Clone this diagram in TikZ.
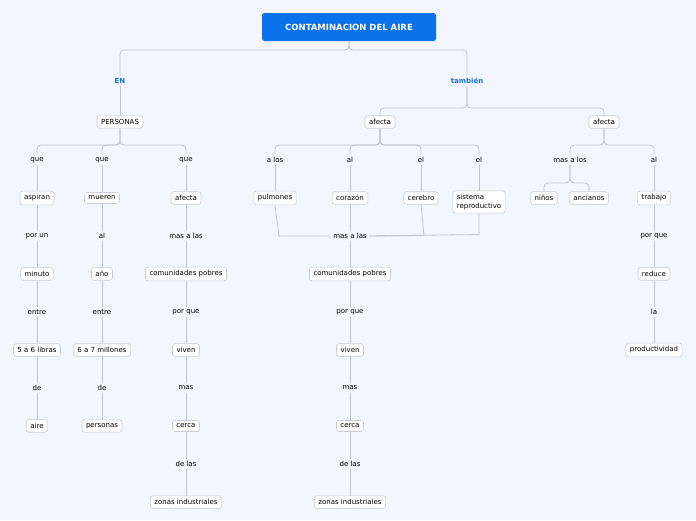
\documentclass[tikz,border=0pt]{standalone}
\usepackage{fontspec}
\setmainfont{DejaVu Sans}
\definecolor{bg}{HTML}{F3F6FE}
\definecolor{ln}{HTML}{BFC3CC}
\definecolor{bd}{HTML}{C9CDD5}
\definecolor{rootb}{HTML}{0B73E9}
\definecolor{lb}{HTML}{1670DA}
\begin{document}
\begin{tikzpicture}[x=1pt,y=-1pt,
  conn/.style={draw=ln, line width=0.8pt, rounded corners=4pt},
  lbl/.style={inner sep=2.5pt, font=\fontsize{7}{8.4}\selectfont},
  bx/.style={draw=bd, line width=0.6pt, fill=white, rounded corners=2.5pt, inner xsep=4pt, inner ysep=3.5pt, font=\fontsize{7}{8.4}\selectfont},
  blue lbl/.style={inner sep=2.5pt, font=\fontsize{7}{8.4}\selectfont\bfseries, text=lb}]
\fill[bg] (0,0) rectangle (696,520);
\useasboundingbox (0,0) rectangle (696,520);
\node[fill=rootb, text=white, rounded corners=2.5pt, minimum width=174pt, minimum height=28pt, font=\fontsize{8.5}{10}\selectfont\bfseries] (root) at (349,27) {CONTAMINACION DEL AIRE};
\node[blue lbl] (en) at (120,81) {EN};
\node[blue lbl] (tb) at (467,81) {también};
\draw[conn] (root.south) -- (root.south |- 0,50) -| (en.north);
\draw[conn] (root.south) -- (root.south |- 0,50) -| (tb.north);
\node[bx] (per) at (120,122) {PERSONAS};
\draw[conn] (en) -- (per);
\foreach \col/\x/\lst in {a/37/{que,aspiran,por un,minuto,entre,5 a 6 libras,de,aire},
                          b/102/{que,mueren,al,año,entre,6 a 7 millones,de,personas},
                          c/186/{que,afecta,mas a las,comunidades pobres,por que,viven,mas,cerca,de las,zonas industriales}}{
  \foreach \t [count=\k] in \lst {
    \pgfmathtruncatemacro{\odd}{mod(\k,2)}
    \pgfmathsetmacro{\yy}{160+38*(\k-1)}
    \ifnum\odd=1 \node[lbl] (\col\k) at (\x,\yy) {\t};
    \else \node[bx] (\col\k) at (\x,\yy) {\t}; \fi
    \ifnum\k>1 \pgfmathtruncatemacro{\p}{\k-1}\draw[conn] (\col\p) -- (\col\k); \fi
  }
}
\draw[conn] (per.south) -- (per.south |- 0,145) -| (a1.north);
\draw[conn] (per.south) -- (per.south |- 0,145) -| (b1.north);
\draw[conn] (per.south) -- (per.south |- 0,145) -| (c1.north);
\node[bx] (af1) at (380,122) {afecta};
\node[bx] (af2) at (604,122) {afecta};
\draw[conn] (tb.south) -- (tb.south |- 0,108) -| (af1.north);
\draw[conn] (tb.south) -- (tb.south |- 0,108) -| (af2.north);
\node[lbl] (d1) at (275,160) {a los};
\node[lbl] (d2) at (350,160) {al};
\node[lbl] (d3) at (421,160) {el};
\node[lbl] (d4) at (479,160) {el};
\foreach \n in {d1,d2,d3,d4} \draw[conn] (af1.south) -- (af1.south |- 0,145) -| (\n.north);
\node[bx] (pul) at (275,198) {pulmones};
\node[bx] (cor) at (350,198) {corazón};
\node[bx] (cer) at (421,198) {cerebro};
\node[bx, align=left] (sis) at (479,202) {sistema\\reproductivo};
\draw[conn] (d1) -- (pul); \draw[conn] (d2) -- (cor); \draw[conn] (d3) -- (cer); \draw[conn] (d4) -- (sis);
\foreach \t [count=\k] in {mas a las,comunidades pobres,por que,viven,mas,cerca,de las,zonas industriales} {
  \pgfmathtruncatemacro{\odd}{mod(\k,2)}
  \pgfmathsetmacro{\yy}{236+38*(\k-1)}
  \ifnum\odd=1 \node[lbl] (e\k) at (350,\yy) {\t};
  \else \node[bx] (e\k) at (350,\yy) {\t}; \fi
  \ifnum\k>1 \pgfmathtruncatemacro{\p}{\k-1}\draw[conn] (e\p) -- (e\k); \fi
}
\draw[conn] (cor) -- (e1);
\draw[conn, rounded corners=0pt] (pul.south) -- (279,236) -- (e1.west);
\draw[conn, rounded corners=0pt] (cer.south) -- (424,235.5) -- (e1.east);
\draw[conn, rounded corners=0pt] (sis.south) -- (479,234.5) -- (e1.east);
\node[lbl] (f1) at (570,160) {mas a los};
\node[lbl] (g1) at (654,160) {al};
\draw[conn] (af2.south) -- (af2.south |- 0,145) -| (f1.north);
\draw[conn] (af2.south) -- (af2.south |- 0,145) -| (g1.north);
\node[bx] (nin) at (544,198) {niños};
\node[bx] (anc) at (589,198) {ancianos};
\draw[conn] (f1.south) -- (f1.south |- 0,183) -| (nin.north);
\draw[conn] (f1.south) -- (f1.south |- 0,183) -| (anc.north);
\foreach \t [count=\k from 2] in {trabajo,por que,reduce,la,productividad} {
  \pgfmathtruncatemacro{\odd}{mod(\k,2)}
  \pgfmathsetmacro{\yy}{160+38*(\k-1)}
  \ifnum\odd=1 \node[lbl] (g\k) at (654,\yy) {\t};
  \else \node[bx] (g\k) at (654,\yy) {\t}; \fi
  \pgfmathtruncatemacro{\p}{\k-1}\draw[conn] (g\p) -- (g\k);
}
\end{tikzpicture}
\end{document}
